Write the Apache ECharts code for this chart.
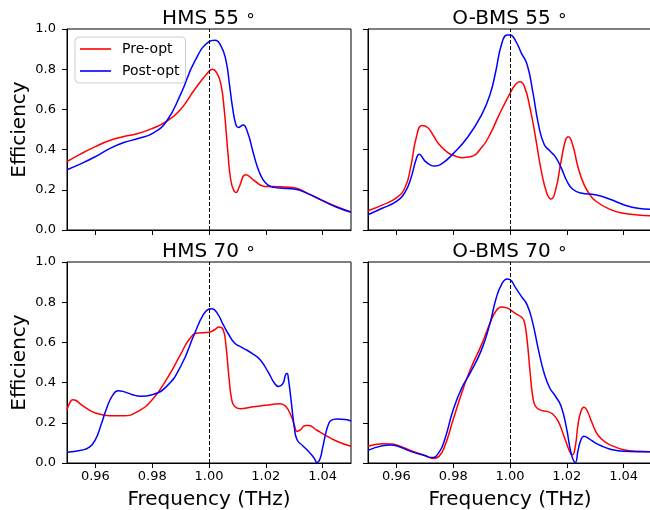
<!DOCTYPE html>
<html>
<head>
<meta charset="utf-8">
<script src="https://cdn.jsdelivr.net/npm/echarts@6/dist/echarts.min.js"></script>
<style>
  html, body { margin: 0; padding: 0; background: #fff; }
  #chart { width: 650px; height: 510px; }
</style>
</head>
<body>
<div id="chart"></div>
<script>
// Frequency axis ticks and efficiency axis ticks
const freqTicks = [0.96, 0.98, 1.00, 1.02, 1.04];
const effTicks = [0, 0.2, 0.4, 0.6, 0.8, 1.0];

// Panel titles (angle shown as a superscript ring)
const panelNames = ['HMS 55', 'O-BMS 55', 'HMS 70', 'O-BMS 70'];

// HMS 55°
const hms55PreX = [0.95, 0.955, 0.96, 0.965, 0.97, 0.975, 0.98, 0.985, 0.99, 0.995, 1.00, 1.0012, 1.0028, 1.0042, 1.0054, 1.0066, 1.0077, 1.0089, 1.0096, 1.0105, 1.013, 1.016, 1.0195, 1.025, 1.03, 1.035, 1.04, 1.045, 1.05];
const hms55PreY = [0.34, 0.38, 0.415, 0.445, 0.465, 0.48, 0.505, 0.54, 0.60, 0.70, 0.79, 0.80, 0.78, 0.725, 0.593, 0.394, 0.245, 0.192, 0.187, 0.21, 0.275, 0.245, 0.217, 0.215, 0.21, 0.18, 0.146, 0.116, 0.09];
const hms55PostX = [0.95, 0.955, 0.96, 0.965, 0.97, 0.975, 0.98, 0.985, 0.99, 0.995, 1.00, 1.002, 1.0042, 1.006, 1.0072, 1.0083, 1.0095, 1.0103, 1.012, 1.0136, 1.0154, 1.0171, 1.0189, 1.0207, 1.023, 1.026, 1.03, 1.035, 1.04, 1.045, 1.05];
const hms55PostY = [0.30, 0.33, 0.365, 0.405, 0.435, 0.455, 0.48, 0.54, 0.675, 0.84, 0.937, 0.944, 0.916, 0.841, 0.725, 0.609, 0.522, 0.51, 0.523, 0.485, 0.394, 0.311, 0.253, 0.225, 0.212, 0.208, 0.204, 0.18, 0.146, 0.113, 0.088];

// O-BMS 55°
const obms55PreX = [0.95, 0.955, 0.96, 0.963, 0.965, 0.967, 0.969, 0.971, 0.973, 0.975, 0.978, 0.98, 0.983, 0.986, 0.99, 0.993, 0.996, 1.00, 1.002, 1.0035, 1.005, 1.007, 1.009, 1.011, 1.013, 1.0145, 1.016, 1.018, 1.0195, 1.0205, 1.022, 1.024, 1.026, 1.028, 1.03, 1.035, 1.04, 1.045, 1.05];
const obms55PreY = [0.096, 0.124, 0.16, 0.21, 0.31, 0.46, 0.52, 0.51, 0.47, 0.427, 0.386, 0.372, 0.36, 0.364, 0.41, 0.477, 0.568, 0.68, 0.725, 0.738, 0.717, 0.61, 0.46, 0.295, 0.182, 0.154, 0.195, 0.344, 0.444, 0.464, 0.427, 0.31, 0.228, 0.179, 0.146, 0.104, 0.083, 0.075, 0.071];
const obms55PostX = [0.95, 0.955, 0.96, 0.963, 0.965, 0.967, 0.968, 0.970, 0.972, 0.9735, 0.976, 0.98, 0.985, 0.99, 0.993, 0.995, 0.997, 0.999, 1.00, 1.002, 1.004, 1.006, 1.008, 1.010, 1.012, 1.014, 1.016, 1.018, 1.02, 1.022, 1.025, 1.03, 1.035, 1.04, 1.045, 1.05];
const obms55PostY = [0.076, 0.108, 0.142, 0.187, 0.253, 0.353, 0.377, 0.344, 0.323, 0.318, 0.33, 0.38, 0.46, 0.573, 0.676, 0.79, 0.923, 0.97, 0.97, 0.94, 0.88, 0.825, 0.69, 0.527, 0.427, 0.394, 0.364, 0.31, 0.245, 0.204, 0.184, 0.175, 0.154, 0.126, 0.108, 0.103];

// HMS 70°
const hms70PreX = [0.95, 0.951, 0.952, 0.953, 0.955, 0.958, 0.96, 0.965, 0.97, 0.975, 0.98, 0.985, 0.99, 0.993, 0.996, 1.00, 1.002, 1.0035, 1.005, 1.006, 1.007, 1.008, 1.009, 1.011, 1.015, 1.02, 1.025, 1.027, 1.029, 1.030, 1.031, 1.032, 1.034, 1.035, 1.038, 1.04, 1.045, 1.05];
const hms70PreY = [0.265, 0.30, 0.315, 0.312, 0.29, 0.262, 0.249, 0.235, 0.235, 0.257, 0.315, 0.415, 0.54, 0.614, 0.647, 0.65, 0.663, 0.677, 0.663, 0.58, 0.43, 0.315, 0.282, 0.27, 0.279, 0.287, 0.295, 0.282, 0.232, 0.19, 0.157, 0.163, 0.186, 0.186, 0.163, 0.146, 0.108, 0.083];
const hms70PostX = [0.95, 0.955, 0.958, 0.96, 0.962, 0.964, 0.966, 0.968, 0.970, 0.973, 0.976, 0.98, 0.985, 0.99, 0.995, 0.998, 1.00, 1.001, 1.003, 1.005, 1.007, 1.009, 1.012, 1.015, 1.018, 1.021, 1.023, 1.0245, 1.026, 1.027, 1.0275, 1.028, 1.029, 1.030, 1.031, 1.033, 1.035, 1.037, 1.038, 1.039, 1.040, 1.041, 1.042, 1.043, 1.045, 1.048, 1.05];
const hms70PostY = [0.053, 0.063, 0.08, 0.116, 0.19, 0.274, 0.335, 0.36, 0.355, 0.34, 0.332, 0.34, 0.38, 0.48, 0.647, 0.738, 0.766, 0.768, 0.743, 0.688, 0.638, 0.597, 0.572, 0.547, 0.514, 0.448, 0.398, 0.381, 0.395, 0.44, 0.445, 0.415, 0.30, 0.182, 0.116, 0.086, 0.058, 0.025, 0.003, 0.017, 0.075, 0.141, 0.19, 0.212, 0.219, 0.216, 0.209];

// O-BMS 70°
const obms70PreX = [0.95, 0.955, 0.958, 0.96, 0.965, 0.97, 0.973, 0.975, 0.977, 0.98, 0.983, 0.986, 0.99, 0.993, 0.995, 0.997, 0.999, 1.00, 1.002, 1.004, 1.005, 1.006, 1.007, 1.008, 1.009, 1.011, 1.013, 1.015, 1.017, 1.019, 1.021, 1.022, 1.023, 1.024, 1.025, 1.026, 1.027, 1.029, 1.031, 1.034, 1.037, 1.04, 1.045, 1.05];
const obms70PreY = [0.083, 0.096, 0.095, 0.09, 0.063, 0.037, 0.023, 0.033, 0.083, 0.216, 0.348, 0.464, 0.589, 0.697, 0.755, 0.776, 0.771, 0.763, 0.743, 0.726, 0.705, 0.614, 0.464, 0.332, 0.282, 0.262, 0.257, 0.244, 0.207, 0.133, 0.058, 0.041, 0.083, 0.196, 0.257, 0.277, 0.265, 0.196, 0.138, 0.10, 0.08, 0.066, 0.058, 0.056];
const obms70PostX = [0.95, 0.955, 0.958, 0.96, 0.965, 0.97, 0.9725, 0.975, 0.977, 0.98, 0.983, 0.986, 0.99, 0.993, 0.995, 0.997, 0.999, 1.00, 1.002, 1.004, 1.006, 1.008, 1.010, 1.012, 1.014, 1.016, 1.018, 1.020, 1.021, 1.022, 1.023, 1.024, 1.025, 1.026, 1.028, 1.03, 1.033, 1.036, 1.04, 1.045, 1.05];
const obms70PostY = [0.063, 0.086, 0.09, 0.086, 0.058, 0.037, 0.027, 0.053, 0.116, 0.265, 0.373, 0.448, 0.564, 0.697, 0.813, 0.888, 0.915, 0.912, 0.871, 0.829, 0.788, 0.697, 0.564, 0.448, 0.373, 0.332, 0.282, 0.166, 0.083, 0.025, 0.003, 0.066, 0.116, 0.133, 0.119, 0.10, 0.08, 0.066, 0.058, 0.056, 0.056];

const panels = [
  { pre: [hms55PreX, hms55PreY], post: [hms55PostX, hms55PostY] },
  { pre: [obms55PreX, obms55PreY], post: [obms55PostX, obms55PostY] },
  { pre: [hms70PreX, hms70PreY], post: [hms70PostX, hms70PostY] },
  { pre: [obms70PreX, obms70PreY], post: [obms70PostX, obms70PostY] }
];

const FONT = 'DejaVu Sans';
const zip = (xs, ys) => xs.map((x, i) => [x, ys[i]]);

// 2x2 layout
const gridBoxes = [
  { left: 67, top: 29, width: 284, height: 201 },
  { left: 368, top: 29, width: 284, height: 201 },
  { left: 67, top: 262, width: 284, height: 201 },
  { left: 368, top: 262, width: 284, height: 201 }
];

const grids = gridBoxes.map(b => Object.assign({
  show: true, borderColor: '#000', borderWidth: 1, backgroundColor: 'transparent',
  outerBoundsMode: 'none', containLabel: false
}, b));

const xAxes = gridBoxes.map((b, i) => ({
  type: 'value', gridIndex: i, min: 0.95, max: 1.05,
  axisLine: { show: true, lineStyle: { color: '#000', width: 1 } },
  axisTick: { show: true, length: 5, customValues: freqTicks, lineStyle: { color: '#000', width: 1 } },
  axisLabel: {
    show: i >= 2, customValues: freqTicks, margin: 7,
    formatter: v => v.toFixed(2), fontSize: 13, color: '#000', fontFamily: FONT
  },
  splitLine: { show: false },
  name: i >= 2 ? 'Frequency (THz)' : '',
  nameLocation: 'middle', nameGap: 27,
  nameTextStyle: { fontSize: 20, color: '#000', fontFamily: FONT }
}));

const yAxes = gridBoxes.map((b, i) => ({
  type: 'value', gridIndex: i, min: 0, max: 1, interval: 0.2,
  axisLine: { show: true, lineStyle: { color: '#000', width: 1 } },
  axisTick: { show: true, length: 5, lineStyle: { color: '#000', width: 1 } },
  axisLabel: {
    show: i % 2 === 0, margin: 11,
    formatter: v => v.toFixed(1), fontSize: 13, color: '#000', fontFamily: FONT
  },
  splitLine: { show: false },
  name: i % 2 === 0 ? 'Efficiency' : '',
  nameLocation: 'middle', nameGap: 37,
  nameTextStyle: { fontSize: 20, color: '#000', fontFamily: FONT }
}));

const titles = panelNames.map((name, i) => ({
  text: '{m|' + name + ' }{s|∘}',
  left: gridBoxes[i].left + 142,
  top: gridBoxes[i].top - 21,
  textAlign: 'center',
  padding: 0,
  textStyle: {
    fontWeight: 'normal',
    rich: {
      m: { fontSize: 20, fontWeight: 'normal', color: '#000', fontFamily: FONT, lineHeight: 22 },
      s: { fontSize: 17, fontWeight: 'normal', color: '#000', fontFamily: FONT, verticalAlign: 'top', lineHeight: 12 }
    }
  }
}));

const series = [];
panels.forEach((p, i) => {
  series.push({
    name: 'Pre-opt', type: 'line', xAxisIndex: i, yAxisIndex: i,
    data: zip(p.pre[0], p.pre[1]),
    showSymbol: false, symbol: 'none', smooth: 0.5,
    lineStyle: { color: '#ff0000', width: 1.5 }, itemStyle: { color: '#ff0000' },
    markLine: {
      silent: true, symbol: 'none', label: { show: false },
      lineStyle: { color: '#000', type: [4, 2], width: 1 },
      data: [{ xAxis: 1.0 }]
    }
  });
  series.push({
    name: 'Post-opt', type: 'line', xAxisIndex: i, yAxisIndex: i,
    data: zip(p.post[0], p.post[1]),
    showSymbol: false, symbol: 'none', smooth: 0.5,
    lineStyle: { color: '#0000ff', width: 1.5 }, itemStyle: { color: '#0000ff' }
  });
});

const chart = echarts.init(document.getElementById('chart'), null, { renderer: 'canvas' });
chart.setOption({
  animation: false,
  backgroundColor: '#fff',
  title: titles,
  grid: grids,
  xAxis: xAxes,
  yAxis: yAxes,
  legend: {
    data: ['Pre-opt', 'Post-opt'],
    orient: 'vertical', left: 75, top: 37,
    icon: 'rect', itemWidth: 31, itemHeight: 1.6, itemGap: 6,
    padding: [4, 6, 4, 5],
    borderColor: '#cccccc', borderWidth: 1, borderRadius: 4,
    backgroundColor: 'rgba(255,255,255,0.8)',
    textStyle: { fontSize: 14, lineHeight: 16, color: '#000', fontFamily: FONT, padding: [0, 0, 0, 6] }
  },
  series: series
});
</script>
</body>
</html>
